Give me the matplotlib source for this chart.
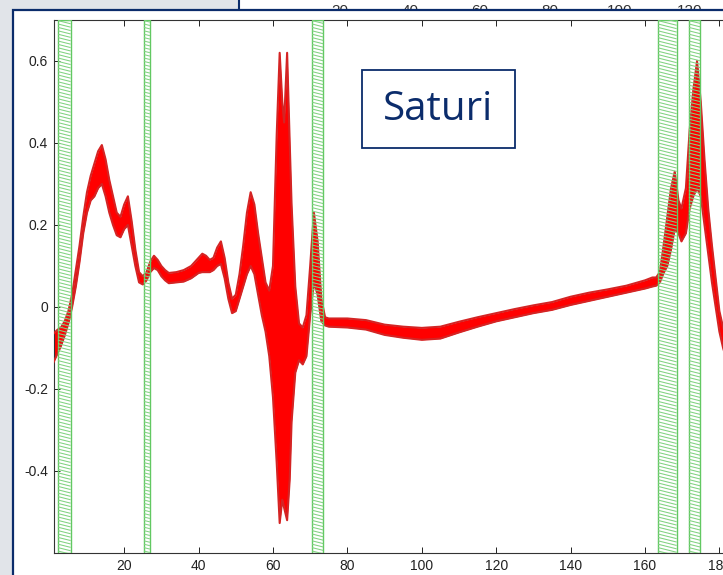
import matplotlib
matplotlib.use('Agg')
import matplotlib.pyplot as plt
import numpy as np
from matplotlib.patches import Rectangle
from matplotlib.collections import LineCollection

plt.rcParams.update({
    'font.family': ['Liberation Sans', 'DejaVu Sans'],
    'axes.unicode_minus': False,
})

W, H, DPI = 723, 575, 100

# --- spectra bundle: variable index with lower / upper envelope of all curves ---
var_idx = [1, 2, 3, 4, 5, 6, 7, 8, 9, 10, 11, 12, 13, 14, 15, 16, 17, 18, 19, 20,
           21, 22, 23, 24, 25, 26, 27, 28, 29, 30, 31, 32, 34, 36, 38, 40, 41, 42,
           43, 44, 45, 46, 47, 48, 49, 50, 51, 52, 53, 54, 55, 56, 57, 58, 59, 60,
           61, 61.8, 62.5, 63, 63.8, 64.5, 65, 66, 67, 68, 69, 70, 71, 72, 73, 74,
           75, 80, 85, 90, 95, 100, 105, 110, 115, 120, 125, 130, 135, 140, 145,
           150, 155, 160, 162, 163, 164, 165, 166, 167, 168, 169, 169.8, 171, 172,
           173, 174, 175, 176, 177, 178, 179, 180, 181, 182]
lower_env = [-0.135, -0.115, -0.095, -0.07, -0.04, 0.0, 0.05, 0.11, 0.18, 0.23,
             0.26, 0.27, 0.29, 0.30, 0.27, 0.23, 0.20, 0.175, 0.17, 0.19, 0.20,
             0.15, 0.10, 0.06, 0.055, 0.065, 0.085, 0.095, 0.09, 0.075, 0.065,
             0.058, 0.06, 0.062, 0.07, 0.083, 0.085, 0.085, 0.085, 0.09, 0.10,
             0.105, 0.07, 0.02, -0.015, -0.01, 0.02, 0.05, 0.08, 0.10, 0.08, 0.03,
             -0.02, -0.06, -0.12, -0.22, -0.38, -0.527, -0.47, -0.49, -0.52, -0.42,
             -0.28, -0.16, -0.13, -0.14, -0.12, -0.02, 0.06, 0.03, -0.035, -0.045,
             -0.048, -0.05, -0.055, -0.068, -0.075, -0.08, -0.077, -0.062, -0.048,
             -0.035, -0.025, -0.015, -0.007, 0.005, 0.015, 0.025, 0.035, 0.045,
             0.05, 0.052, 0.06, 0.083, 0.10, 0.14, 0.19, 0.18, 0.16, 0.18, 0.24,
             0.27, 0.29, 0.27, 0.20, 0.13, 0.06, 0.0, -0.06, -0.10, -0.13]
upper_env = [-0.065, -0.056, -0.05, -0.035, -0.01, 0.03, 0.09, 0.15, 0.22, 0.28,
             0.32, 0.35, 0.38, 0.395, 0.36, 0.31, 0.27, 0.23, 0.22, 0.25, 0.27,
             0.21, 0.14, 0.085, 0.075, 0.085, 0.11, 0.125, 0.115, 0.10, 0.09,
             0.083, 0.085, 0.09, 0.10, 0.12, 0.13, 0.125, 0.115, 0.12, 0.145,
             0.16, 0.12, 0.06, 0.02, 0.03, 0.08, 0.15, 0.23, 0.28, 0.25, 0.18,
             0.12, 0.06, 0.04, 0.10, 0.42, 0.62, 0.50, 0.45, 0.62, 0.40, 0.25,
             0.05, -0.04, -0.05, -0.02, 0.10, 0.23, 0.16, 0.02, -0.025, -0.028,
             -0.028, -0.032, -0.043, -0.048, -0.051, -0.048, -0.036, -0.025,
             -0.015, -0.005, 0.004, 0.012, 0.025, 0.035, 0.043, 0.052, 0.065,
             0.072, 0.072, 0.085, 0.15, 0.22, 0.29, 0.33, 0.26, 0.24, 0.29, 0.43,
             0.53, 0.60, 0.50, 0.36, 0.24, 0.15, 0.07, -0.01, -0.05, -0.08]

# --- selected variable intervals (green hatched bands) ---
band_start = [2.2, 25.3, 70.5, 163.5, 171.8]
band_end = [5.6, 26.9, 73.5, 168.5, 174.8]

x_ticks = [20, 40, 60, 80, 100, 120, 140, 160, 180]
y_ticks = [-0.4, -0.2, 0, 0.2, 0.4, 0.6]
back_labels = ['20', '40', '60', '80', '100', '120']

NAVY = '#0b2c6b'
fig = plt.figure(figsize=(W / DPI, H / DPI), dpi=DPI, facecolor='#e1e4e9')

# panel behind (another chart, only the top of its tick labels shows)
fig.add_artist(Rectangle((239 / W, 1 - 12 / H), 1, 0.1, transform=fig.transFigure,
                         facecolor='white', edgecolor=NAVY, linewidth=1.5, zorder=0.2))
for i, lab in enumerate(back_labels):
    fig.text((340 + 70 * i) / W, 1 - 15 / H, lab, ha='center', va='baseline',
             fontsize=11, color='#333333', zorder=0.3)

# main panel
fig.add_artist(Rectangle((13 / W, -0.1), 1.1, 1.1 - 10 / H, transform=fig.transFigure,
                         facecolor='white', edgecolor=NAVY, linewidth=1.6, zorder=0.5))

ax_left, ax_top, ax_bot = 53.5, 20, 553
x_lo, x_hi = 1, 200
px_per_unit = 3.72
ax_w = (x_hi - x_lo) * px_per_unit
ax = fig.add_axes([ax_left / W, (H - ax_bot) / H, ax_w / W, (ax_bot - ax_top) / H],
                  zorder=1)
ax.set_facecolor('white')
ax.set_xlim(x_lo, x_hi)
ax.set_ylim(-0.6, 0.7)

ax.fill_between(var_idx, lower_env, upper_env, color='#ff0000', linewidth=0, zorder=2)
ax.plot(var_idx, upper_env, color='#d42424', linewidth=1.5, zorder=3)
ax.plot(var_idx, lower_env, color='#d42424', linewidth=1.5, zorder=3)

# hatched bands, hatch lines slightly descending like the original
y_lo, y_hi = ax.get_ylim()
slope = -0.25 * px_per_unit / ((ax_bot - ax_top) / (y_hi - y_lo))
step = 3.4 * (y_hi - y_lo) / (ax_bot - ax_top)
for x0, x1 in zip(band_start, band_end):
    ax.axvspan(x0, x1, facecolor='none', edgecolor='#62c862', linewidth=1.0, zorder=4)
    starts = np.arange(y_lo - 0.02, y_hi + 0.05, step)
    segs = [[(x0, s), (x1, s + slope * (x1 - x0))] for s in starts]
    ax.add_collection(LineCollection(segs, colors='#80d280', linewidths=0.75, zorder=4))

ax.set_xticks(x_ticks)
ax.set_yticks(y_ticks)
ax.set_yticklabels([f'{v:g}' for v in y_ticks])
ax.tick_params(direction='in', top=True, right=True, length=4, width=0.7,
               labelsize=10, colors='#222222', pad=4)
for sp in ax.spines.values():
    sp.set_color('#333333')
    sp.set_linewidth(0.8)

# label box
fig.add_artist(Rectangle((362 / W, 1 - 148 / H), 153 / W, 78 / H, transform=fig.transFigure,
                         facecolor='white', edgecolor=NAVY, linewidth=1.3, zorder=5))
fig.text(438 / W, 1 - 110 / H, 'Saturi', ha='center', va='center', fontsize=29,
         family=['Open Sans', 'DejaVu Sans'], color=NAVY, zorder=6)

fig.savefig('out.png', dpi=DPI, facecolor=fig.get_facecolor())
